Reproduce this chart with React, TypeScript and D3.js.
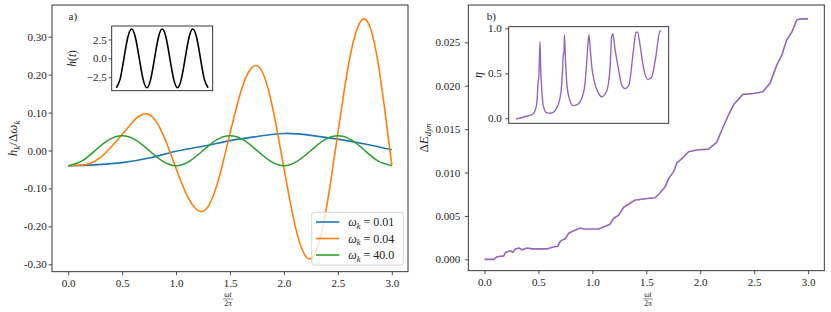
import React, { useEffect, useRef } from 'react';
import * as d3 from 'd3';

// ---------- panel a) : h_k / Δω_k against ωt/2π ----------
const slowT = [0, 0.25, 0.5, 0.75, 1.0, 1.25, 1.5, 1.75, 2.0, 2.25, 2.5, 2.75, 3.0];
const slowH = [-0.040, -0.038, -0.032, -0.020, -0.002, 0.011, 0.026, 0.037, 0.045, 0.040, 0.030, 0.017, 0.002];

const midT = [
  0, 0.1, 0.2, 0.3, 0.4, 0.5, 0.6, 0.66, 0.722, 0.787, 0.851, 0.916, 0.98, 1.045, 1.109, 1.174,
  1.238, 1.301, 1.363, 1.426, 1.489, 1.552, 1.615, 1.677, 1.74, 1.803, 1.865, 1.928, 1.99, 2.053,
  2.115, 2.178, 2.24, 2.303, 2.366, 2.429, 2.492, 2.555, 2.618, 2.681, 2.744, 2.807, 2.869, 2.932, 3.0
];
const midH = [
  -0.040, -0.039, -0.034, -0.018, 0.010, 0.042, 0.076, 0.091, 0.097, 0.087, 0.059, 0.017, -0.032, -0.081, -0.123, -0.151,
  -0.161, -0.146, -0.105, -0.042, 0.032, 0.105, 0.168, 0.209, 0.224, 0.205, 0.150, 0.066, -0.031, -0.128,
  -0.212, -0.267, -0.286, -0.262, -0.194, -0.090, 0.030, 0.151, 0.255, 0.323, 0.347, 0.318, 0.237, 0.113, -0.040
];

const fastT = [
  0, 0.125, 0.25, 0.375, 0.5, 0.625, 0.75, 0.875, 1.0, 1.125, 1.25, 1.375, 1.5,
  1.625, 1.75, 1.875, 2.0, 2.125, 2.25, 2.375, 2.5, 2.625, 2.75, 2.875, 3.0
];
const fastH = [
  -0.040, -0.028, 0.000, 0.028, 0.039, 0.028, 0.000, -0.028, -0.040, -0.028, 0.000, 0.028, 0.039,
  0.028, 0.000, -0.028, -0.040, -0.028, 0.000, 0.028, 0.039, 0.028, 0.000, -0.028, -0.040
];

// inset of a): drive h(t)
const driveH = [
  -3.9, -2.76, 0, 2.76, 3.9, 2.76, 0, -2.76, -3.9, -2.76, 0, 2.76, 3.9,
  2.76, 0, -2.76, -3.9, -2.76, 0, 2.76, 3.9, 2.76, 0, -2.76, -3.9
];

const seriesA = [
  { label: '0.01', t: slowT, v: slowH, color: '#1f77b4' },
  { label: '0.04', t: midT, v: midH, color: '#ff7f0e' },
  { label: '40.0', t: fastT, v: fastH, color: '#2ca02c' }
];

const xTicks = [0, 0.5, 1.0, 1.5, 2.0, 2.5, 3.0];
const yTicksA = [-0.3, -0.2, -0.1, 0, 0.1, 0.2, 0.3];
const yTicksInsetA = [-2.5, 0, 2.5];

// ---------- panel b) : ΔE_dyn and η ----------
const energyT = [
  0, 0.086, 0.117, 0.179, 0.194, 0.241, 0.262, 0.287, 0.318, 0.349, 0.395, 0.441, 0.58, 0.627, 0.679,
  0.704, 0.75, 0.781, 0.827, 0.889, 0.92, 1.058, 1.12, 1.16, 1.197, 1.244, 1.29, 1.367, 1.389, 1.506,
  1.583, 1.63, 1.676, 1.707, 1.753, 1.784, 1.83, 1.892, 1.969, 2.077, 2.154, 2.2, 2.253, 2.309, 2.395,
  2.494, 2.58, 2.648, 2.71, 2.756, 2.802, 2.85, 2.895, 2.94, 3.0
];
const energyV = [
  0.0000, 0.0000, 0.0003, 0.0004, 0.0008, 0.0010, 0.0008, 0.0012, 0.0013, 0.0011, 0.0013, 0.0012, 0.0012, 0.0014, 0.0015,
  0.0021, 0.0024, 0.0030, 0.0033, 0.0036, 0.0035, 0.0035, 0.0038, 0.0040, 0.0047, 0.0051, 0.0060, 0.0066, 0.0068, 0.0070,
  0.0071, 0.0077, 0.0084, 0.0093, 0.0101, 0.0111, 0.0116, 0.0124, 0.0126, 0.0127, 0.0135, 0.0149, 0.0164, 0.0178, 0.0190,
  0.0191, 0.0193, 0.0203, 0.0224, 0.0235, 0.0253, 0.0262, 0.0276, 0.0277, 0.0277
];

const etaT = [
  0, 0.08, 0.19, 0.32, 0.38, 0.43, 0.46, 0.47, 0.495, 0.51, 0.53, 0.56, 0.63, 0.72, 0.8, 0.87, 0.93,
  0.955, 0.976, 0.99, 1.0, 1.02, 1.045, 1.09, 1.18, 1.25, 1.355, 1.42, 1.465, 1.49, 1.505, 1.53, 1.56,
  1.615, 1.7, 1.77, 1.87, 1.94, 1.975, 2.0, 2.04, 2.11, 2.18, 2.25, 2.33, 2.42, 2.475, 2.51, 2.56,
  2.63, 2.72, 2.8, 2.88, 2.97, 3.0
];
const etaV = [
  -0.005, 0.0, 0.02, 0.037, 0.067, 0.167, 0.42, 0.44, 0.85, 0.56, 0.33, 0.15, 0.062, 0.056, 0.081, 0.15, 0.3,
  0.48, 0.7, 0.74, 0.93, 0.67, 0.41, 0.24, 0.14, 0.148, 0.22, 0.37, 0.67, 0.87, 0.925, 0.78, 0.59,
  0.41, 0.28, 0.24, 0.3, 0.56, 0.91, 0.94, 0.78, 0.56, 0.37, 0.33, 0.37, 0.74, 0.956, 0.956, 0.81,
  0.56, 0.43, 0.46, 0.67, 0.97, 0.975
];

const yTicksB = [0, 0.005, 0.01, 0.015, 0.02, 0.025];
const yTicksInsetB = [0, 0.5, 1.0];

const FONT = '"Liberation Serif", "DejaVu Serif", serif';
const INK = '#222';

const frame = (svg, b) => {
  svg.append('rect')
    .attr('x', b.left).attr('y', b.top)
    .attr('width', b.right - b.left).attr('height', b.bottom - b.top)
    .attr('fill', 'none').attr('stroke', INK).attr('stroke-width', 0.9);
};

const styleAxis = (g, size) => {
  g.attr('font-family', null).attr('font-size', null);
  g.select('.domain').remove();
  g.selectAll('line').attr('stroke', INK).attr('stroke-width', 0.8);
  g.selectAll('text').attr('fill', INK).style('font-family', FONT).style('font-size', size + 'px');
};

const leftAxis = (svg, scale, values, fmt, xPos, tick, pad) => {
  const g = svg.append('g').attr('transform', `translate(${xPos},0)`)
    .call(d3.axisLeft(scale).tickValues(values).tickFormat(fmt).tickSize(tick).tickPadding(pad));
  styleAxis(g, 11);
};

const bottomAxis = (svg, scale, yPos) => {
  const g = svg.append('g').attr('transform', `translate(0,${yPos})`)
    .call(d3.axisBottom(scale).tickValues(xTicks).tickFormat(d3.format('.1f')).tickSize(3.5).tickPadding(4.3));
  styleAxis(g, 11);
};

const fracLabel = (svg, cx, top) => {
  const g = svg.append('g').style('font-family', FONT).attr('fill', INK);
  g.append('text').attr('x', cx).attr('y', top + 5).attr('text-anchor', 'middle')
    .style('font-size', '7.5px').style('font-style', 'italic').text('ωt');
  g.append('line').attr('x1', cx - 5).attr('x2', cx + 5).attr('y1', top + 7).attr('y2', top + 7)
    .attr('stroke', INK).attr('stroke-width', 0.5);
  g.append('text').attr('x', cx).attr('y', top + 13.5).attr('text-anchor', 'middle')
    .style('font-size', '7.5px').text('2π');
};

const App = () => {
  const ref = useRef(null);

  useEffect(() => {
    const svg = d3.select(ref.current);
    svg.selectAll('*').remove();

    // ===== panel a) =====
    const A = { left: 52, right: 408, top: 5, bottom: 271.7 };
    const xA = d3.scaleLinear().domain([-0.15, 3.15]).range([A.left, A.right]);
    const yA = d3.scaleLinear().domain([-0.3195, 0.3836]).range([A.bottom, A.top]);

    seriesA.forEach(s => {
      const line = d3.line<number>()
        .x((d, i) => xA(s.t[i]))
        .y(d => yA(d))
        .curve(d3.curveNatural);
      svg.append('path').attr('d', line(s.v))
        .attr('fill', 'none').attr('stroke', s.color).attr('stroke-width', 1.6);
    });

    frame(svg, A);
    leftAxis(svg, yA, yTicksA, d => d.toFixed(2), A.left, 3.5, 1.8);
    bottomAxis(svg, xA, A.bottom);
    fracLabel(svg, 228, 292);

    const ylabA = svg.append('text')
      .attr('transform', `translate(17,${(A.top + A.bottom) / 2}) rotate(-90)`)
      .attr('text-anchor', 'middle').attr('fill', INK)
      .style('font-family', FONT).style('font-size', '13px');
    ylabA.append('tspan').style('font-style', 'italic').text('h');
    ylabA.append('tspan').style('font-style', 'italic').style('font-size', '9px').attr('dy', 3).text('k');
    ylabA.append('tspan').attr('dy', -3).text('/Δ');
    ylabA.append('tspan').style('font-style', 'italic').text('ω');
    ylabA.append('tspan').style('font-style', 'italic').style('font-size', '9px').attr('dy', 3).text('k');

    svg.append('text').attr('x', 68.5).attr('y', 19.5).attr('fill', INK)
      .style('font-family', FONT).style('font-size', '11px').text('a)');

    // legend
    const L = { left: 311.7, right: 403.3, top: 212.3, bottom: 265 };
    svg.append('rect')
      .attr('x', L.left).attr('y', L.top).attr('width', L.right - L.left).attr('height', L.bottom - L.top)
      .attr('rx', 2.5).attr('fill', '#fff').attr('fill-opacity', 0.8)
      .attr('stroke', '#ccc').attr('stroke-width', 0.8);
    seriesA.forEach((s, i) => {
      const cy = 222 + i * 16.5;
      svg.append('line').attr('x1', 316).attr('x2', 339.3).attr('y1', cy).attr('y2', cy)
        .attr('stroke', s.color).attr('stroke-width', 1.6);
      const t = svg.append('text').attr('x', 348.3).attr('y', cy + 4).attr('fill', INK)
        .style('font-family', FONT).style('font-size', '12px');
      t.append('tspan').style('font-style', 'italic').text('ω');
      t.append('tspan').style('font-style', 'italic').style('font-size', '8.5px').attr('dy', 2.5).text('k');
      t.append('tspan').attr('dy', -2.5).text(' = ' + s.label);
    });

    // inset h(t)
    const IA = { left: 111.7, right: 212.7, top: 26, bottom: 90.7 };
    const xIA = d3.scaleLinear().domain([-0.15, 3.15]).range([IA.left, IA.right]);
    const yIA = d3.scaleLinear().domain([-4.29, 4.29]).range([IA.bottom, IA.top]);
    svg.append('rect').attr('x', IA.left).attr('y', IA.top)
      .attr('width', IA.right - IA.left).attr('height', IA.bottom - IA.top).attr('fill', '#fff');
    const driveLine = d3.line<number>()
      .x((d, i) => xIA(fastT[i]))
      .y(d => yIA(d))
      .curve(d3.curveNatural);
    svg.append('path').attr('d', driveLine(driveH))
      .attr('fill', 'none').attr('stroke', '#000').attr('stroke-width', 1.6);
    frame(svg, IA);
    leftAxis(svg, yIA, yTicksInsetA, d3.format('.1f'), IA.left, 3, 2);
    svg.append('text')
      .attr('transform', `translate(76,${(IA.top + IA.bottom) / 2}) rotate(-90)`)
      .attr('text-anchor', 'middle').attr('fill', INK)
      .style('font-family', FONT).style('font-size', '11.5px')
      .call(t => {
        t.append('tspan').style('font-style', 'italic').text('h');
        t.append('tspan').text('(');
        t.append('tspan').style('font-style', 'italic').text('t');
        t.append('tspan').text(')');
      });

    // ===== panel b) =====
    const B = { left: 468.3, right: 824.3, top: 5, bottom: 270.7 };
    const xB = d3.scaleLinear().domain([-0.15, 3.15]).range([B.left, B.right]);
    const yB = d3.scaleLinear().domain([-0.00131, 0.0293]).range([B.bottom, B.top]);

    const energyLine = d3.line<number>()
      .x((d, i) => xB(energyT[i]))
      .y(d => yB(d));
    svg.append('path').attr('d', energyLine(energyV))
      .attr('fill', 'none').attr('stroke', '#9467bd').attr('stroke-width', 1.6)
      .attr('stroke-linejoin', 'round');

    frame(svg, B);
    leftAxis(svg, yB, yTicksB, d3.format('.3f'), B.left, 3.5, 4.5);
    bottomAxis(svg, xB, B.bottom);
    fracLabel(svg, 648, 292);

    const ylabB = svg.append('text')
      .attr('transform', `translate(428,${(B.top + B.bottom) / 2}) rotate(-90)`)
      .attr('text-anchor', 'middle').attr('fill', INK)
      .style('font-family', FONT).style('font-size', '13px');
    ylabB.append('tspan').text('Δ');
    ylabB.append('tspan').style('font-style', 'italic').text('E');
    ylabB.append('tspan').style('font-style', 'italic').style('font-size', '9px').attr('dy', 3).text('dyn');

    svg.append('text').attr('x', 486.7).attr('y', 19.5).attr('fill', INK)
      .style('font-family', FONT).style('font-size', '11px').text('b)');

    // inset η
    const IB = { left: 508.7, right: 668.7, top: 26.7, bottom: 123.3 };
    const xIB = d3.scaleLinear().domain([-0.15, 3.15]).range([IB.left, IB.right]);
    const yIB = d3.scaleLinear().domain([-0.056, 1.018]).range([IB.bottom, IB.top]);
    svg.append('rect').attr('x', IB.left).attr('y', IB.top)
      .attr('width', IB.right - IB.left).attr('height', IB.bottom - IB.top).attr('fill', '#fff');
    const etaLine = d3.line<number>()
      .x((d, i) => xIB(etaT[i]))
      .y(d => yIB(d))
      .curve(d3.curveMonotoneX);
    svg.append('path').attr('d', etaLine(etaV))
      .attr('fill', 'none').attr('stroke', '#9467bd').attr('stroke-width', 1.4)
      .attr('stroke-linejoin', 'round');
    frame(svg, IB);
    leftAxis(svg, yIB, yTicksInsetB, d3.format('.1f'), IB.left, 3.5, 3.5);
    svg.append('text')
      .attr('transform', `translate(482,${(IB.top + IB.bottom) / 2}) rotate(-90)`)
      .attr('text-anchor', 'middle').attr('fill', INK)
      .style('font-family', FONT).style('font-size', '12px').style('font-style', 'italic')
      .text('η');
  }, []);

  return (
    <svg ref={ref} width={831} height={312}
      style={{ position: 'absolute', left: 0, top: 0, background: '#fff' }} />
  );
};

export default App;
